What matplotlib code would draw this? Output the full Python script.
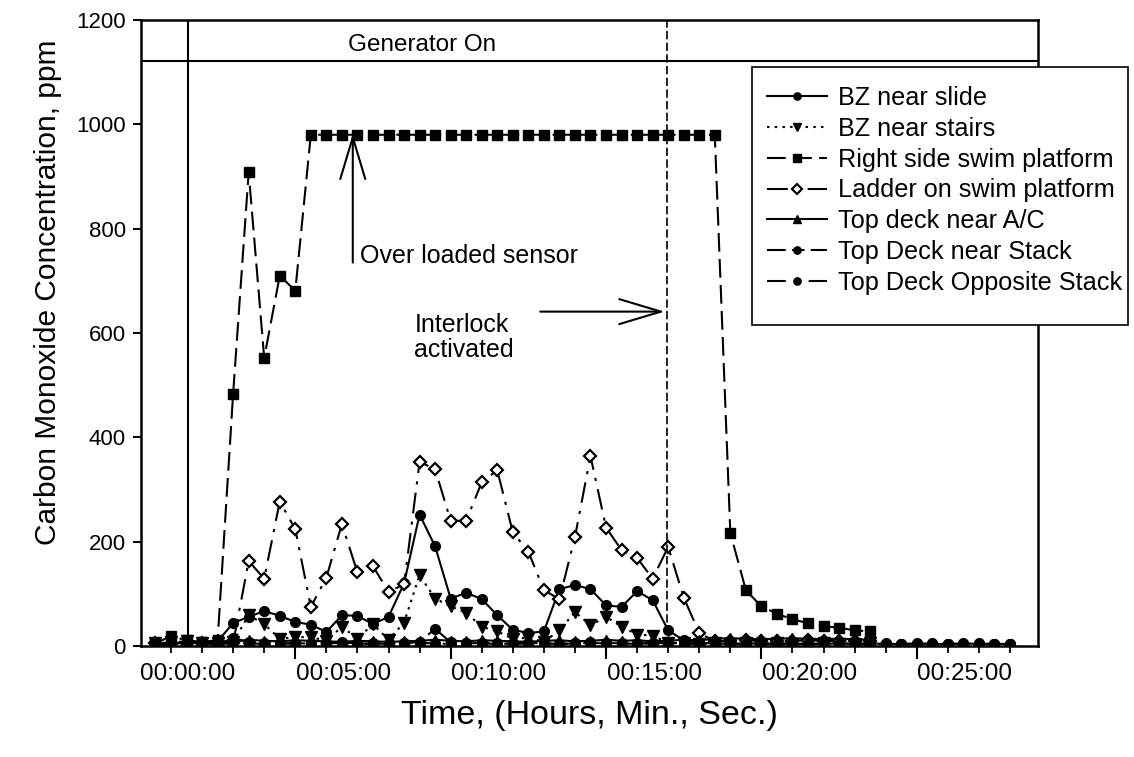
import numpy as np
import matplotlib.pyplot as plt
from matplotlib.patches import Rectangle
from matplotlib.ticker import FixedLocator, FuncFormatter

plt.rcParams['font.family'] = ['Liberation Sans', 'DejaVu Sans']

# CO readings (ppm) logged every 30 s, first sample 63 s before generator start
t_first = -63
t_step = 30

bz_slide = [6, 5, 7, 6, 9,
            44, 56, 67, 58, 46, 41, 27, 59, 58, 42, 56, 120, 252, 191, 91,
            102, 90, 59, 31, 25, 28, 109, 117, 109, 78, 75, 105, 88, 30, 11,
            6, 5, 4, 5, 5, 4, 5, 4, 4, 5, 4, 5, 4, 4, 5, 4, 4, 5, 4, 4, 4]
bz_stairs = [5, 7, 9, 6, 5, 8, 59, 42, 14, 17, 17, 10, 37, 14, 42, 12,
             45, 136, 91, 76, 64, 37, 28, 14, 16, 8, 30, 65, 40, 56, 37,
             22, 20, 6, 5, 4, 5, 4, 5, 4, 5, 4, 4, 5, 4, 4, 5]
right_side = [5, 19, 11, 8, 11, 484, 908, 552, 710, 681,
              980, 980, 980, 980, 980, 980, 980, 980, 980, 980,
              980, 980, 980, 980, 980, 980, 980, 980, 980, 980,
              980, 980, 980, 980, 980, 980, 980,
              217, 107, 76, 62, 51, 44, 38, 35, 30, 28]
ladder = [5, 4, 6, 5, 4, 6,
          163, 129, 277, 224, 75, 131, 234, 141, 153, 104, 118, 353, 339,
          240, 240, 314, 337, 218, 181, 107, 90, 209, 364, 227, 184, 169,
          129, 190, 93, 25,
          9, 10, 11, 10, 9, 10, 11, 10, 9, 10, 9]
top_ac = [4, 6, 5, 6, 5, 8, 12, 10, 9, 11, 10, 9, 8, 10, 9, 8, 9, 10, 12, 10,
          9, 11, 10, 9, 8, 10, 11, 9, 10, 12, 10, 11, 9, 10, 12, 11, 14, 15,
          14, 13, 14, 15, 14, 13, 14, 13, 12]
near_stack = [3, 4, 3, 5, 4, 6, 5, 4, 5, 6, 4, 5, 6, 4, 5, 4, 5, 6, 5, 4,
              5, 6, 5, 4, 5, 5, 4, 5, 6, 5, 4, 5, 6, 5, 4, 5, 6, 5, 4, 5,
              4, 5, 4, 5, 4, 5, 4, 5, 4, 4, 5, 4, 4, 5, 4, 4]
opp_stack = [2, 3, 2, 3, 4, 15, 8, 6, 5, 4, 6, 5, 7, 5, 4, 6, 5, 8, 33, 7,
             6, 5, 4, 5, 6, 5, 4, 5, 7, 6, 5, 4, 5, 6, 5, 4, 3, 4, 3, 4,
             3, 4, 3, 4, 3, 4, 3, 4, 3, 3, 4, 3, 3, 4, 3, 3]

gen_on_level = 1121      # ppm level of the "Generator On" bar
interlock_t = 924        # s
overload_t = 318         # s

series = [
    ('BZ near slide', bz_slide, dict(marker='o', ms=7, ls='-')),
    ('BZ near stairs', bz_stairs, dict(marker='v', ms=8, ls=(0, (1.2, 2.5)))),
    ('Right side swim platform', right_side, dict(marker='s', ms=6.8, ls=(0, (9, 3.5)))),
    ('Ladder on swim platform', ladder, dict(marker='D', ms=6.5, mfc='white', mew=1.6,
                                              ls=(0, (10, 4, 1.5, 4)))),
    ('Top deck near A/C', top_ac, dict(marker='^', ms=7, ls='-')),
    ('Top Deck near Stack', near_stack, dict(marker='o', ms=7, ls=(0, (9, 3, 1.5, 3, 1.5, 3)))),
    ('Top Deck Opposite Stack', opp_stack, dict(marker='o', ms=7, ls=(0, (9, 4, 3, 4)))),
]

fig = plt.figure(figsize=(11.34, 7.57), dpi=100)
ax = fig.add_axes([0.1243, 0.1466, 0.7910, 0.8270])

for name, vals, st in series:
    t = t_first + t_step * np.arange(len(vals))
    ax.plot(t, vals, color='black', lw=1.5, mec='black', label=name, **st)

ax.set_xlim(-91, 1641)
ax.set_ylim(0, 1200)

# generator on bar and marker lines
ax.axhline(gen_on_level, color='black', lw=1.5)
ax.axvline(0, color='black', lw=1.5)
ax.axvline(interlock_t, color='black', lw=1.2, ls=(0, (5, 2)))
ax.text(452, 1153, 'Generator On', ha='center', va='center', fontsize=17.5)

ax.annotate('', xy=(overload_t, 982), xytext=(overload_t, 735),
            arrowprops=dict(arrowstyle='->,head_length=1.5,head_width=0.45',
                            lw=1.5, color='black', mutation_scale=20,
                            shrinkA=0, shrinkB=0))
ax.text(overload_t + 14, 748, 'Over loaded sensor', ha='left', va='center', fontsize=18)

ax.annotate('', xy=(interlock_t - 4, 641), xytext=(680, 641),
            arrowprops=dict(arrowstyle='->,head_length=1.5,head_width=0.45',
                            lw=1.5, color='black', mutation_scale=20,
                            shrinkA=0, shrinkB=0))
ax.text(437, 591, 'Interlock\nactivated', ha='left', va='center', fontsize=18,
        linespacing=1.05)

# time axis: labels every 5 min, short ticks every minute, long ticks every 5 min
ax.set_xticks(np.arange(0, 1501, 300))
ax.xaxis.set_major_formatter(FuncFormatter(
    lambda s, pos: '%02d:%02d:%02d' % (s // 3600, (s % 3600) // 60, s % 60)))
ax.xaxis.set_minor_locator(FixedLocator(np.arange(-33, 1641, 60)))
ax.tick_params(axis='x', which='major', length=0, pad=12, labelsize=17.5)
ax.tick_params(axis='x', which='minor', length=5, width=1.3, direction='out')
long_ticks = ax.secondary_xaxis('bottom')
long_ticks.set_xticks(np.arange(207, 1641, 300))
long_ticks.tick_params(length=9, width=1.5, labelbottom=False)
long_ticks.spines['bottom'].set_visible(False)

ax.set_yticks(np.arange(0, 1201, 200))
ax.tick_params(axis='y', length=6, width=1.5, direction='out', labelsize=16, pad=5)

for sp in ax.spines.values():
    sp.set_linewidth(1.8)

ax.set_xlabel('Time, (Hours, Min., Sec.)', fontsize=24.5)
ax.xaxis.set_label_coords(0.5, -0.087)
ax.set_ylabel('Carbon Monoxide Concentration, ppm', fontsize=21.5)
ax.yaxis.set_label_coords(-0.088, 0.565)

# legend box sticks out past the right spine
box = Rectangle((0.6631, 0.5707), 0.3316, 0.3408, transform=fig.transFigure,
                facecolor='white', edgecolor='black', lw=1.2, clip_on=False,
                zorder=4.9)
ax.add_patch(box)
leg = ax.legend(loc='upper left', bbox_to_anchor=(0.6764, 0.8864),
                bbox_transform=fig.transFigure, fontsize=18.2, frameon=False,
                borderpad=0, labelspacing=0.27, handlelength=2.37,
                handletextpad=0.43, markerscale=0.75, borderaxespad=0)

fig.savefig('out.png', dpi=100, facecolor='white')
